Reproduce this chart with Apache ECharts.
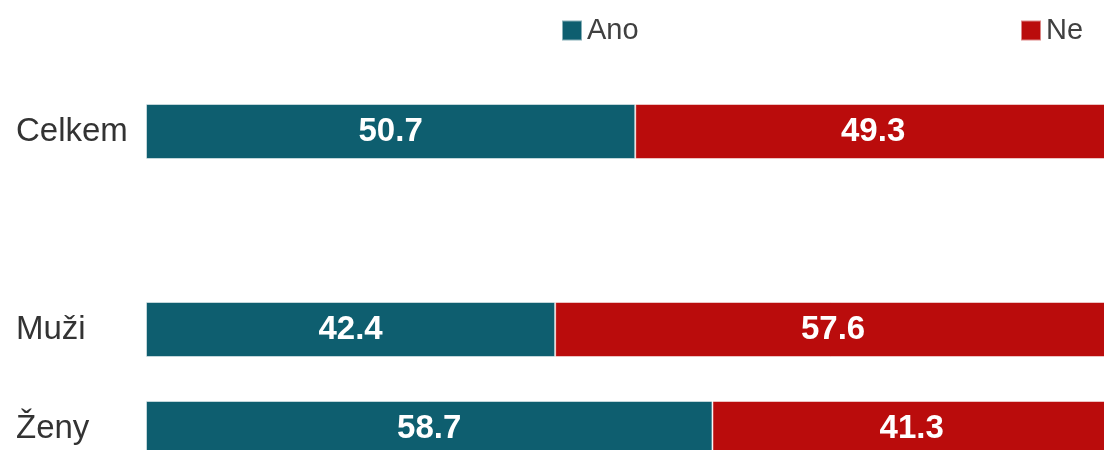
<!DOCTYPE html>
<html>
<head>
<meta charset="utf-8">
<script src="https://cdn.jsdelivr.net/npm/echarts@6/dist/echarts.min.js"></script>
<style>
html,body{margin:0;padding:0;background:#fff;}
#main{width:1104px;height:450px;}
</style>
</head>
<body>
<div id="main"></div>
<script>
const categories = ['Celkem', '', 'Muži', 'Ženy'];
const seriesNames = ['Ano', 'Ne'];
const anoValues = [50.7, null, 42.4, 58.7];
const neValues = [49.3, null, 57.6, 41.3];
const colors = ['#0E5E6F', '#BA0C0C'];

const font = '"Liberation Sans", Arial, sans-serif';
const chart = echarts.init(document.getElementById('main'));

function makeSeries(name, data, color) {
  return {
    name: name,
    type: 'bar',
    stack: 'total',
    barWidth: 55,
    data: data,
    itemStyle: { color: color, borderColor: 'rgba(255,255,255,0.5)', borderWidth: 1 },
    label: {
      show: true,
      position: 'inside',
      color: '#fff',
      fontFamily: font,
      fontWeight: 'bold',
      fontSize: 33,
      formatter: p => p.value.toFixed(1)
    },
    emphasis: { disabled: true },
    animation: false
  };
}

const legendText = { fontFamily: font, fontSize: 29, color: '#404040' };

chart.setOption({
  animation: false,
  color: colors,
  legend: [
    {
      data: [seriesNames[0]],
      left: 561, top: 16, padding: 0,
      itemWidth: 20, itemHeight: 20,
      icon: 'rect',
      textStyle: legendText
    },
    {
      data: [seriesNames[1]],
      left: 1020, top: 16, padding: 0,
      itemWidth: 20, itemHeight: 20,
      icon: 'rect',
      textStyle: legendText
    }
  ],
  grid: { left: 146, top: 82, width: 965, height: 396, containLabel: false, outerBoundsMode: 'none' },
  xAxis: {
    type: 'value',
    min: 0, max: 100,
    show: false
  },
  yAxis: {
    type: 'category',
    data: categories,
    inverse: true,
    axisLine: { show: false },
    axisTick: { show: false },
    splitLine: { show: false },
    axisLabel: {
      align: 'left',
      margin: 130,
      fontFamily: font,
      fontSize: 33,
      color: '#333333'
    }
  },
  series: [
    makeSeries(seriesNames[0], anoValues, colors[0]),
    makeSeries(seriesNames[1], neValues, colors[1])
  ]
});
</script>
</body>
</html>
